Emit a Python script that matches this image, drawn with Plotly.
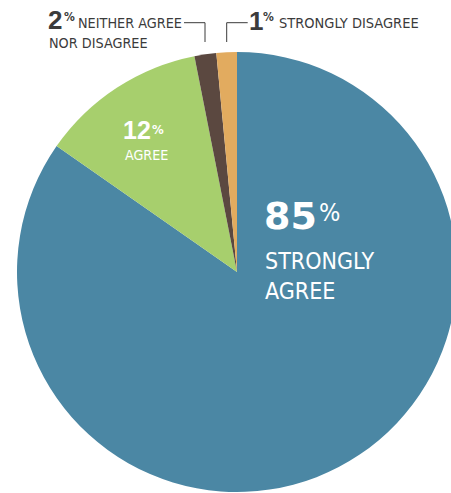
import plotly.graph_objects as go

# ---- data ----
categories = ["Strongly agree", "Agree", "Neither agree nor disagree", "Strongly disagree"]
slice_values = [84.7, 12.2, 1.6, 1.5]          # wedge sizes as drawn
label_percents = ["85", "12", "2", "1"]         # printed labels
colors = ["#4B87A4", "#A7CF6D", "#5B4840", "#E2AB5F"]

W, H = 460, 493
DARK = "#3b3b3b"

def px(x):
    return x / W

def py(y):
    return 1 - y / H

fig = go.Figure(go.Pie(
    labels=categories,
    values=slice_values,
    sort=False,
    direction="clockwise",
    rotation=0,
    marker=dict(colors=colors, line=dict(width=0)),
    textinfo="none",
    hoverinfo="label+percent",
    showlegend=False,
    domain=dict(x=[px(17), px(457)], y=[py(492), py(52)]),
))

NARROW = "DejaVu Sans Condensed"
BOLD = "Liberation Sans"

anns = []
def add(text, x, y, family, size, color, bold=False):
    anns.append(dict(
        text=(f"<b>{text}</b>" if bold else text),
        x=px(x), y=py(y), xref="paper", yref="paper",
        xanchor="left", yanchor="middle", showarrow=False,
        borderpad=0,
        font=dict(family=family, size=size, color=color),
    ))

# inside labels
add(label_percents[0], 263, 216, "DejaVu Sans", 38, "white", bold=True)
add("%", 318, 212, NARROW, 25, "white")
add("STRONGLY", 264, 260.5, NARROW, 23, "white")
add("AGREE", 264, 291, NARROW, 23, "white")

add(label_percents[1], 122, 130.5, BOLD, 25, "white", bold=True)
add("%", 151, 129.5, NARROW, 13, "white", bold=True)
add("AGREE", 124, 154.5, NARROW, 14.2, "white")

# top labels
add(label_percents[2], 47, 19.5, BOLD, 26, DARK, bold=True)
add("%", 63, 17, NARROW, 12, DARK, bold=True)
add("NEITHER AGREE", 77, 22.5, NARROW, 14.3, DARK)
add("NOR DISAGREE", 48, 43, NARROW, 14.3, DARK)

add(label_percents[3], 248, 21, BOLD, 26, DARK, bold=True)
add("%", 262, 17.5, NARROW, 12, DARK, bold=True)
add("STRONGLY DISAGREE", 278, 23, NARROW, 14.5, DARK)

shapes = [
    dict(type="path", xref="paper", yref="paper",
         path=f"M {px(184)},{py(22.7)} L {px(205)},{py(22.7)} L {px(205)},{py(42)}",
         line=dict(color=DARK, width=1)),
    dict(type="path", xref="paper", yref="paper",
         path=f"M {px(226.7)},{py(42)} L {px(226.7)},{py(22.7)} L {px(247.7)},{py(22.7)}",
         line=dict(color=DARK, width=1)),
]

fig.update_layout(
    width=W, height=H,
    margin=dict(l=0, r=0, t=0, b=0),
    paper_bgcolor="white",
    plot_bgcolor="white",
    annotations=anns,
    shapes=shapes,
)

fig.write_html(
    "out.html",
    config={"displayModeBar": False},
    post_script="document.body.style.margin='0';document.body.style.overflow='hidden';",
)
